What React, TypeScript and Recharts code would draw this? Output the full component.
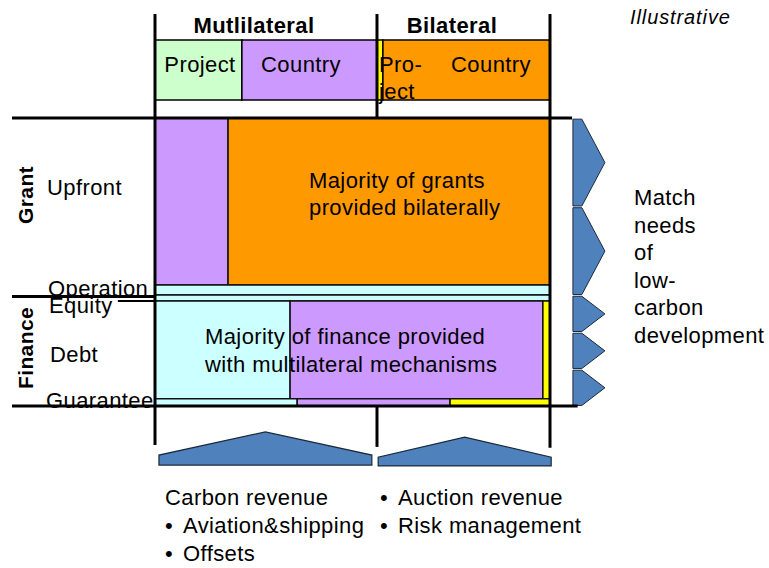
import React from 'react';
import { ComposedChart, XAxis, YAxis, ReferenceArea, ReferenceLine } from 'recharts';

// ---------- data ----------
const groupNames = ['Mutlilateral', 'Bilateral'];
const columnNames = ['Project', 'Country', 'Pro-ject', 'Country'];
const columnShares = [22, 34.2, 1.5, 42.3];
const columnKinds = ['multiProject', 'multiCountry', 'biProject', 'biCountry'];

const rowGroupNames = ['Grant', 'Finance'];
const rowGroupChevrons = [2, 3];
const rowNames = ['Upfront', 'Operation', 'Equity', 'Debt', 'Guarantee'];
const rowShares = [58, 3.5, 2, 34, 2.5];
const rowGroupOf = [0, 0, 1, 1, 1];

const upfrontShares = [18.5, 81.5];
const upfrontKinds = ['multiCountry', 'biCountry'];
const operationShares = [100];
const operationKinds = ['fund'];
const equityShares = [100];
const equityKinds = ['fund'];
const debtShares = [34.2, 64, 1.8];
const debtKinds = ['fund', 'multiCountry', 'biProject'];
const guaranteeShares = [36, 38.7, 25.3];
const guaranteeKinds = ['fund', 'multiCountry', 'biProject'];

const revenueMultilateralTitle = 'Carbon revenue';
const revenueMultilateral = ['Aviation&shipping', 'Offsets'];
const revenueBilateral = ['Auction revenue', 'Risk management'];
const outcomeLines = ['Match', 'needs', 'of', 'low-', 'carbon', 'development'];
const grantNote = ['Majority of grants', 'provided bilaterally'];
const financeNote = ['Majority of finance provided', 'with multilateral mechanisms'];
const mounds = [
  { x1: 1, x2: 54.9, y1: 109, y2: 120.5 },
  { x1: 56.5, x2: 100.3, y1: 110.8, y2: 120.8 },
];

// ---------- style ----------
const kindColor: Record<string, string> = {
  multiProject: '#CCFFCC',
  multiCountry: '#CC99FF',
  biProject: '#FFFF00',
  biCountry: '#FF9900',
  fund: '#CCFFFF',
};
const W = 769;
const H = 568;
const M = { top: 118, left: 155, right: 219, bottom: 162 };
const FONT = '"Liberation Sans", Arial, sans-serif';
const FS = 22;
const LS = 0.4;
const HEADER_Y: [number, number] = [-27.1, -6.25];
const FRAME_TOP = -36.1;
const FRAME_BOTTOM = 113.5;
const CHEV_X: [number, number] = [105.8, 113.9];

const rowsSegs = [
  [upfrontShares, upfrontKinds],
  [operationShares, operationKinds],
  [equityShares, equityKinds],
  [debtShares, debtKinds],
  [guaranteeShares, guaranteeKinds],
] as const;

function cum(arr: readonly number[]) {
  const out: number[] = [0];
  arr.forEach((v) => out.push(out[out.length - 1] + v));
  return out;
}
const rowEdges = cum(rowShares);
const colEdges = cum(columnShares);

const cells: { x1: number; x2: number; y1: number; y2: number; fill: string }[] = [];
rowsSegs.forEach(([shares, kinds], r) => {
  const e = cum(shares as readonly number[]);
  (shares as readonly number[]).forEach((_, i) => {
    cells.push({ x1: e[i], x2: e[i + 1], y1: rowEdges[r], y2: rowEdges[r + 1], fill: kindColor[(kinds as readonly string[])[i]] });
  });
});

const groupSpans = rowGroupNames.map((_, g) => {
  const idx = rowGroupOf.map((v, i) => (v === g ? i : -1)).filter((i) => i >= 0);
  return [rowEdges[idx[0]], rowEdges[idx[idx.length - 1] + 1]];
});
const chevrons: { y1: number; y2: number }[] = [];
groupSpans.forEach(([a, b], g) => {
  const n = rowGroupChevrons[g];
  const step = (b - a) / n;
  for (let i = 0; i < n; i++) chevrons.push({ y1: a + step * i + 0.4, y2: a + step * (i + 1) - 0.2 });
});

const Chevron = (p: any) => {
  const { x, y, width: w, height: h } = p;
  const pts = `${x},${y} ${x + 0.28 * w},${y} ${x + w},${y + h / 2} ${x + 0.28 * w},${y + h} ${x},${y + h}`;
  return <polygon points={pts} fill="#4F81BD" stroke="#1b2a3a" strokeWidth={1} />;
};
const Mound = (p: any) => {
  const { x, y, width: w, height: h } = p;
  const pts = `${x},${y + h} ${x},${y + 0.7 * h} ${x + w / 2},${y} ${x + w},${y + 0.7 * h} ${x + w},${y + h}`;
  return <polygon points={pts} fill="#4F81BD" stroke="#1b2a3a" strokeWidth={1.2} />;
};

const T = (props: any) => (
  <text fontFamily={FONT} fontSize={FS} letterSpacing={LS} fill="#000" {...props} />
);
const Bullet = ({ x, y, text }: { x: number; y: number; text: string }) => (
  <T x={x} y={y}>
    <tspan x={x}>•</tspan>
    <tspan x={x + 18}>{text}</tspan>
  </T>
);

export default function App() {
  return (
    <div style={{ position: 'absolute', left: 0, top: 0, width: W, height: H, background: '#fff' }}>
      <ComposedChart width={W} height={H} margin={M} data={[]}>
        <XAxis type="number" dataKey="x" domain={[0, 100]} hide allowDataOverflow />
        <YAxis type="number" dataKey="y" domain={[0, 100]} reversed hide allowDataOverflow />

        {columnShares.map((_, i) => (
          <ReferenceArea key={'h' + i} x1={colEdges[i]} x2={colEdges[i + 1]} y1={HEADER_Y[0]} y2={HEADER_Y[1]}
            fill={kindColor[columnKinds[i]]} fillOpacity={1} stroke="#000" strokeWidth={1.5} ifOverflow="visible" />
        ))}

        {cells.map((c, i) => (
          <ReferenceArea key={'c' + i} x1={c.x1} x2={c.x2} y1={c.y1} y2={c.y2} fill={c.fill} fillOpacity={1}
            stroke="#111" strokeWidth={1.5} ifOverflow="visible" />
        ))}

        {chevrons.map((c, i) => (
          <ReferenceArea key={'v' + i} x1={CHEV_X[0]} x2={CHEV_X[1]} y1={c.y1} y2={c.y2} ifOverflow="visible" shape={Chevron} />
        ))}

        {mounds.map((m, i) => (
          <ReferenceArea key={'m' + i} x1={m.x1} x2={m.x2} y1={m.y1} y2={m.y2} ifOverflow="visible" shape={Mound} />
        ))}

        <ReferenceLine segment={[{ x: -36.2, y: 0 }, { x: 105.6, y: 0 }]} stroke="#000" strokeWidth={3} ifOverflow="visible" />
        <ReferenceLine segment={[{ x: -36.2, y: 100 }, { x: 107, y: 100 }]} stroke="#000" strokeWidth={3} ifOverflow="visible" />
        <ReferenceLine segment={[{ x: -36.2, y: groupSpans[1][0] + 0.5 }, { x: 0, y: groupSpans[1][0] + 0.5 }]} stroke="#000" strokeWidth={3} ifOverflow="visible" />
        <ReferenceLine segment={[{ x: -9.4, y: rowEdges[3] }, { x: 0, y: rowEdges[3] }]} stroke="#000" strokeWidth={2} ifOverflow="visible" />
        {[0, 100].map((x, i) => (
          <ReferenceLine key={'vl' + i} segment={[{ x, y: FRAME_TOP }, { x, y: FRAME_BOTTOM + i * 1 }]} stroke="#000" strokeWidth={3} ifOverflow="visible" />
        ))}
        <ReferenceLine segment={[{ x: colEdges[2], y: FRAME_TOP }, { x: colEdges[2], y: 0 }]} stroke="#000" strokeWidth={3} ifOverflow="visible" />
        <ReferenceLine segment={[{ x: colEdges[2], y: 100 }, { x: colEdges[2], y: FRAME_BOTTOM + 0.7 }]} stroke="#000" strokeWidth={3} ifOverflow="visible" />
      </ComposedChart>

      <svg width={W} height={H} style={{ position: 'absolute', left: 0, top: 0, pointerEvents: 'none' }}>
        <T x={254} y={33} fontWeight="bold" textAnchor="middle">{groupNames[0]}</T>
        <T x={452} y={33} fontWeight="bold" textAnchor="middle">{groupNames[1]}</T>
        <T x={200} y={72} textAnchor="middle">{columnNames[0]}</T>
        <T x={301} y={72} textAnchor="middle">{columnNames[1]}</T>
        <T x={379} y={72}>{columnNames[2].split('-')[0] + '-'}</T>
        <T x={379} y={99}>{columnNames[2].split('-')[1]}</T>
        <T x={491} y={72} textAnchor="middle">{columnNames[3]}</T>
        <T x={630} y={24} fontStyle="italic" fontSize={20} letterSpacing={0.9}>Illustrative</T>

        <T x={25} y={195} fontWeight="bold" fontSize={21} textAnchor="middle" dominantBaseline="central" transform="rotate(-90 25 195)">{rowGroupNames[0]}</T>
        <T x={25} y={348} fontWeight="bold" fontSize={21} textAnchor="middle" dominantBaseline="central" transform="rotate(-90 25 348)">{rowGroupNames[1]}</T>
        <T x={47} y={195}>{rowNames[0]}</T>
        <T x={48} y={296}>{rowNames[1]}</T>
        <T x={49} y={313}>{rowNames[2]}</T>
        <T x={50} y={362}>{rowNames[3]}</T>
        <T x={46} y={408}>{rowNames[4]}</T>

        {grantNote.map((s, i) => (
          <T key={'g' + i} x={309} y={188 + i * 27}>{s}</T>
        ))}
        {financeNote.map((s, i) => (
          <T key={'f' + i} x={205} y={344 + i * 28}>{s}</T>
        ))}
        {outcomeLines.map((s, i) => (
          <T key={'o' + i} x={634} y={205 + i * 27.6}>{s}</T>
        ))}
        <T x={165} y={505}>{revenueMultilateralTitle}</T>
        {revenueMultilateral.map((s, i) => (
          <Bullet key={'rm' + i} x={165} y={533 + i * 28} text={s} />
        ))}
        {revenueBilateral.map((s, i) => (
          <Bullet key={'rb' + i} x={380} y={505 + i * 28} text={s} />
        ))}
      </svg>
    </div>
  );
}
